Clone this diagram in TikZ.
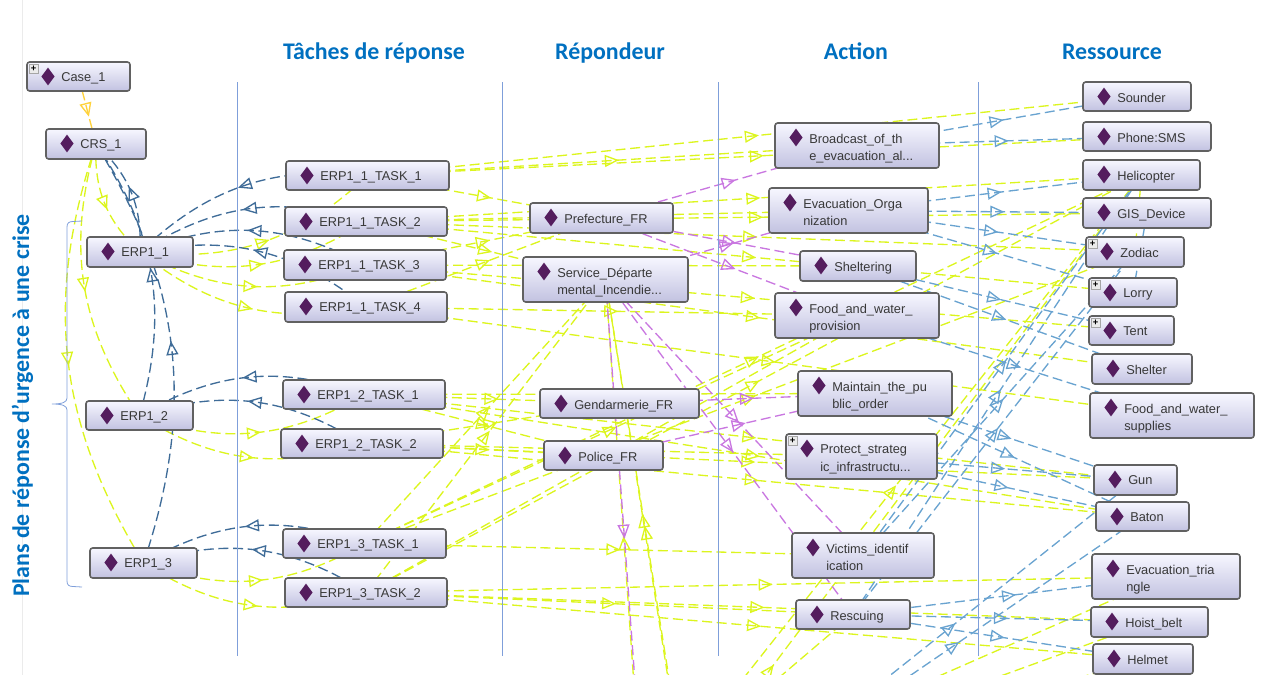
\documentclass[tikz,border=0pt]{standalone}
\usepackage{fontspec}
\setmainfont{Liberation Sans}
\newfontfamily\headfont{Carlito}
\usetikzlibrary{arrows.meta, backgrounds, calc, decorations.markings, shapes.geometric}
\definecolor{linkyel}{HTML}{DCF51E}
\definecolor{linkdark}{HTML}{3F6C98}
\definecolor{linkblue}{HTML}{69A3D0}
\definecolor{linkpurp}{HTML}{C977E0}
\definecolor{linkorange}{HTML}{FFD23C}
\definecolor{sepblue}{HTML}{7F9FDA}
\definecolor{headblue}{HTML}{0070C0}
\definecolor{gemcol}{HTML}{541D5E}
\newcommand{\cutoff}{.\kern0pt.\kern0pt.}
\tikzset{
	link/.style={line width=1pt, dash pattern=on 7.5pt off 3.5pt, postaction={decorate},
		decoration={markings, mark=at position 0.5 with {\arrow[xshift=5pt]{Triangle[open, length=10.5pt, width=9pt]}}}},
	yel/.style={link, draw=linkyel},
	dark/.style={link, draw=linkdark},
	lblue/.style={link, draw=linkblue},
	purp/.style={link, draw=linkpurp},
	indiv/.style={draw=black!62, line width=1.2pt, rounded corners=2pt, top color=white!92!blue!40, bottom color=blue!50!black!24!white, inner sep=0pt, outer sep=0pt},
	gem/.style={diamond, fill=gemcol, inner sep=0pt, minimum width=10pt, minimum height=13.5pt},
	indivtext/.style={anchor=north west, align=left, inner sep=0pt, text=black!78, font=\fontsize{9.6}{13.2}\selectfont},
	plusbox/.style={draw=black!35, fill=black!8, inner sep=0pt, minimum size=7pt, font=\fontsize{7}{7}\selectfont\bfseries},
	head/.style={anchor=base, text=headblue, font=\headfont\fontsize{17.9}{20}\selectfont\bfseries},
	sep/.style={draw=sepblue, line width=0.6pt}
}
\begin{document}
\begin{tikzpicture}[x=0.75pt, y=0.75pt]
	\useasboundingbox (0,0) rectangle (1261,-675);
	\coordinate (offa) at (765,-775);
	\coordinate (offp) at (642.5,-784.5);
	\coordinate (offs) at (642.5,-806);
	\coordinate (offu) at (681,-761);
	\coordinate (offv) at (686,-785);
	\coordinate (offh) at (398,-1165);
	\coordinate (offr) at (700,-745);
	\foreach \nm/\xa/\ya/\xb/\yb/\txt in {
		case/27/62/130/91/Case\_1, crs/46/129/146/159/CRS\_1,
		erpa/87/237/193/267/ERP1\_1, erpb/86/401/193/430/ERP1\_2, erpc/90/548/197/578/ERP1\_3,
		taa/286/161/449/190/ERP1\_1\_TASK\_1, tab/285/207/447/236/ERP1\_1\_TASK\_2,
		tac/284/250/446/280/ERP1\_1\_TASK\_3, tad/285/292/447/322/ERP1\_1\_TASK\_4,
		tba/283/380/445/409/ERP1\_2\_TASK\_1, tbb/281/429/443/458/ERP1\_2\_TASK\_2,
		tca/283/529/446/558/ERP1\_3\_TASK\_1, tcb/285/578/447/607/ERP1\_3\_TASK\_2,
		pref/530/203/673/233/Prefecture\_FR, sdis/523/257/688/302/Service\_Départe\\mental\_Incendie\cutoff,
		gend/540/389/699/418/Gendarmerie\_FR, pol/544/441/663/470/Police\_FR,
		broad/775/123/939/168/Broadcast\_of\_th\\e\_evacuation\_al\cutoff,
		evac/769/188/928/233/Evacuation\_Orga\\nization, shelt/800/251/916/281/Sheltering,
		foodp/775/293/939/338/Food\_and\_water\_\\provision, maint/798/371/952/416/Maintain\_the\_pu\\blic\_order,
		prot/786/434/937/479/Protect\_strateg\\ic\_infrastructu\cutoff, vict/792/533/934/578/Victims\_identif\\ication,
		resc/796/600/910/629/Rescuing,
		sound/1083/82/1191/111/Sounder, phone/1083/122/1211/151/Phone:SMS, heli/1083/160/1200/190/Helicopter,
		gis/1083/198/1211/228/GIS\_Device, zod/1086/237/1184/267/Zodiac, lorry/1089/278/1177/307/Lorry,
		tent/1089/316/1174/345/Tent, shelter/1092/354/1192/384/Shelter,
		foods/1090/393/1254/438/Food\_and\_water\_\\supplies, gun/1094/465/1177/495/Gun, baton/1096/502/1189/531/Baton,
		tria/1092/554/1240/599/Evacuation\_tria\\ngle, hoist/1091/607/1208/637/Hoist\_belt, helmet/1093/644/1193/674/Helmet}{
		\node[indiv, minimum width={(\xb-\xa)*0.75pt}, minimum height={(\yb-\ya)*0.75pt}] (\nm) at ({(\xa+\xb)/2},{-(\ya+\yb)/2}) {};
		\node[gem] (\nm-gem) at ($(\nm.north west)+(21,-14.5)$) {};
		\node[indivtext] (\nm-txt) at ($(\nm.north west)+(34,-10.5)$) {\txt};
	}
	\foreach \nm in {case, prot, zod, lorry, tent}
		\node[plusbox] (\nm-plus) at ($(\nm.north west)+(6.5,-7)$) {+};
	\node[head] (hta) at (374,-59) {Tâches de réponse};
	\node[head] (htb) at (610,-59) {Répondeur};
	\node[head] (htc) at (856,-59) {Action};
	\node[head] (htd) at (1112,-59) {Ressource};
	\node[head, rotate=90] (hte) at (29,-405.5) {Plans de réponse d’urgence à une crise};
	\begin{scope}[on background layer]
		\clip (0,0) rectangle (1261,-675);
		\draw[black!8, line width=0.6pt] (22,0) -- (22,-675);
		\foreach \src/\dst in {taa/pref, taa/broad, taa/sound, taa/phone,
			tab/evac, tab/heli, tab/gis, tab/zod, tab/lorry, tab/sdis,
			tac/pref, tac/shelt, tac/tent, tac/shelter,
			tad/pref, tad/foodp, tad/foods,
			tba/gend, tba/maint, tba/gun, tba/baton, tba/pol,
			tbb/gend, tbb/pol, tbb/prot, tbb/gun, tbb/baton,
			tca/vict, tca/sdis, tca/foodp, tca/zod, tca/heli,
			tcb/resc, tcb/tria, tcb/hoist, tcb/helmet, tcb/sdis, tcb/foodp, tcb/heli,
			offs/sdis, offs/heli, offs/tria, offs/hoist, offs/helmet,
			offu/sdis, offv/sdis, offh/heli, offr/resc, heli/zod}
			\draw[yel] (\src.center) -- (\dst.center);
		\foreach \src/\dst in {crs/erpa, crs/erpb, crs/erpc, erpa/taa, erpa/tab, erpa/tac, erpa/tad,
			erpb/tba, erpb/tbb, erpc/tca, erpc/tcb}
			\draw[yel] (\src.center) to[bend right=25] (\dst.center);
		\foreach \src/\dst in {pref/broad, pref/shelt, pref/foodp, sdis/evac, sdis/vict, sdis/resc, sdis/offp, gend/maint, pol/maint}
			\draw[purp] (\src.center) -- (\dst.center);
		\foreach \src/\dst in {broad/sound, broad/phone, evac/heli, evac/gis, evac/zod, evac/lorry,
			shelt/tent, shelt/shelter, foodp/foods, maint/gun, maint/baton, prot/gun, prot/baton,
			resc/tria, resc/hoist, resc/helmet, resc/heli, resc/zod, vict/heli, vict/zod,
			offa/gun, offa/baton, gis/lorry}
			\draw[lblue] (\src.center) -- (\dst.center);
		\foreach \src/\dst in {erpa/crs, erpb/crs, erpc/crs, taa/erpa, tab/erpa, tac/erpa, tad/erpa,
			tba/erpb, tbb/erpb, tca/erpc, tcb/erpc}
			\draw[dark] (\src.center) to[bend right=25] (\dst.center);
		\draw[link, draw=linkorange] (case.center) -- (crs.center);
		\foreach \x in {237, 502, 718, 978}
			\draw[sep] (\x,-82) -- (\x,-656);
		\draw[sep] (82,-221) -- (73,-221.5) .. controls (69,-221.5) and (67,-223) .. (67,-227) -- (67,-398)
			.. controls (67,-402) and (63,-404) .. (52,-404) .. controls (63,-404) and (67,-406) .. (67,-410)
			-- (67,-581) .. controls (67,-585) and (69,-586.5) .. (73,-586.5) -- (82,-587);
	\end{scope}
\end{tikzpicture}
\end{document}
